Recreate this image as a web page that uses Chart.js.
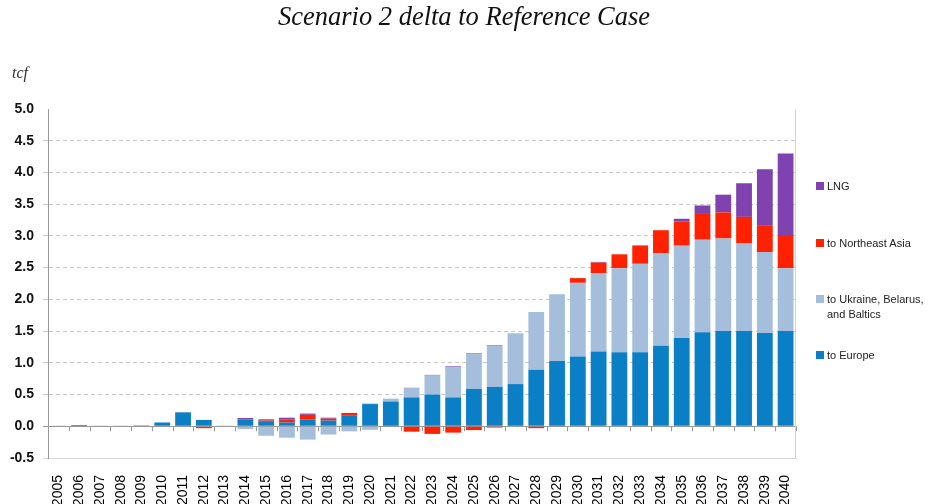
<!DOCTYPE html>
<html>
<head>
<meta charset="utf-8">
<script src="https://cdn.jsdelivr.net/npm/chart.js@4.4.1/dist/chart.umd.min.js"></script>
<style>
  body { margin: 0; background: #fff; }
  #wrap { position: relative; width: 928px; height: 504px; }
  #title { position: absolute; left: 0; top: 1px; width: 928px; text-align: center;
           font: italic 26.5px "Liberation Serif", serif; color: #111; line-height: 30px; }
  #unit { position: absolute; left: 12px; top: 64px; font: italic 16px "Liberation Serif", serif; color: #333; }
  .leg { position: absolute; left: 816px; font: 11px "Liberation Sans", sans-serif; color: #222; line-height: 15px; }
  .leg i { position: absolute; left: 0; top: 3px; width: 8px; height: 8px; }
  .leg span { display: block; padding-left: 11px; }
  canvas { position: absolute; left: 0; top: 0; }
</style>
</head>
<body>
<div id="wrap">
  <canvas id="myChart" width="928" height="504"></canvas>
  <div id="title">Scenario 2 delta to Reference Case</div>
  <div id="unit">tcf</div>
  <div class="leg" style="top:179px"><i style="background:#7f42ae"></i><span>LNG</span></div>
  <div class="leg" style="top:236px"><i style="background:#ff2200"></i><span>to Northeast Asia</span></div>
  <div class="leg" style="top:292px"><i style="background:#a4bedc"></i><span>to Ukraine, Belarus,<br>and Baltics</span></div>
  <div class="leg" style="top:348px"><i style="background:#0a7fc6"></i><span>to Europe</span></div>
</div>
<script>
var years = ["2005", "2006", "2007", "2008", "2009", "2010", "2011", "2012", "2013", "2014",
  "2015", "2016", "2017", "2018", "2019", "2020", "2021", "2022", "2023", "2024",
  "2025", "2026", "2027", "2028", "2029", "2030", "2031", "2032", "2033", "2034",
  "2035", "2036", "2037", "2038", "2039", "2040"];

var toEurope = [0.01, 0.02, 0.01, 0.01, 0.01, 0.06, 0.22, 0.10, 0.01, 0.10,
  0.07, 0.06, 0.11, 0.09, 0.165, 0.35, 0.39, 0.455, 0.50, 0.455,
  0.59, 0.62, 0.665, 0.89, 1.03, 1.10, 1.18, 1.165, 1.165, 1.27,
  1.39, 1.48, 1.50, 1.50, 1.47, 1.50];

var toUkraine = [0, 0, 0, 0, 0, 0, 0, -0.01, 0, -0.045,
  -0.15, -0.18, -0.21, -0.13, -0.08, -0.055, 0.045, 0.155, 0.30, 0.48,
  0.555, 0.65, 0.80, 0.91, 1.05, 1.16, 1.235, 1.325, 1.395, 1.455,
  1.455, 1.46, 1.46, 1.38, 1.275, 0.99];

var toNEAsia = [0, 0, 0, 0, 0.005, 0, 0, -0.02, 0, 0.01,
  0.02, 0.05, 0.07, 0.03, 0.045, 0, 0, -0.085, -0.12, -0.10,
  -0.06, -0.02, 0, -0.03, 0, 0.075, 0.165, 0.22, 0.29, 0.365,
  0.385, 0.42, 0.41, 0.42, 0.425, 0.51];

var lng = [0, 0, 0, 0, 0, 0, 0, 0, 0, 0.02,
  0.02, 0.025, 0.02, 0.015, 0, 0.005, -0.01, 0, 0.01, 0.01,
  0.01, 0.01, 0, 0, -0.01, 0, 0.01, 0, 0, 0,
  0.04, 0.12, 0.28, 0.53, 0.88, 1.30];

var yTicks = [-0.5, 0, 0.5, 1, 1.5, 2, 2.5, 3, 3.5, 4, 4.5, 5];

// small tick marks under the zero line plus the right frame line
var frame = {
  id: "frame",
  afterDatasetsDraw: function (chart) {
    var c = chart.ctx, x = chart.scales.x, y = chart.scales.y, a = chart.chartArea;
    var y0 = y.getPixelForValue(0);
    c.save();
    c.strokeStyle = "#999";
    c.lineWidth = 1;
    c.beginPath();
    for (var i = 0; i <= years.length; i++) {
      var px = x.getPixelForValue(i - 0.5);
      c.moveTo(Math.round(px) + 0.5, y0);
      c.lineTo(Math.round(px) + 0.5, y0 + 5);
    }
    c.stroke();
    c.strokeStyle = "#d4d4d4";
    c.beginPath();
    c.moveTo(Math.round(a.right) - 0.5, a.top);
    c.lineTo(Math.round(a.right) - 0.5, a.bottom);
    c.stroke();
    c.restore();
  }
};

function ds(label, data, color) {
  return {
    label: label,
    data: data,
    backgroundColor: color,
    borderWidth: 0,
    barPercentage: 0.76,
    categoryPercentage: 1.0
  };
}

var ctx = document.getElementById("myChart").getContext("2d");
var myChart = new Chart(ctx, {
  type: "bar",
  data: {
    labels: years,
    datasets: [
      ds("to Europe", toEurope, "#0a7fc6"),
      ds("to Ukraine, Belarus, and Baltics", toUkraine, "#a4bedc"),
      ds("to Northeast Asia", toNEAsia, "#ff2200"),
      ds("LNG", lng, "#7f42ae")
    ]
  },
  options: {
    responsive: false,
    animation: false,
    layout: { padding: { top: 109, right: 132, left: 0, bottom: 0 } },
    plugins: { legend: { display: false }, tooltip: { enabled: false } },
    scales: {
      x: {
        stacked: true,
        grid: { display: false },
        border: { display: true, color: "#d4d4d4" },
        ticks: {
          minRotation: 90, maxRotation: 90, padding: 9,
          color: "#000",
          font: { family: "Liberation Sans", size: 14 }
        },
        afterFit: function (s) { s.height = 46; }
      },
      y: {
        stacked: true,
        min: -0.5, max: 5,
        afterBuildTicks: function (s) { s.ticks = yTicks.map(function (v) { return { value: v }; }); },
        grid: {
          tickLength: 5,
          color: function (c) {
            if (c.tick && c.tick.value === 5) return "rgba(0,0,0,0)";
            if (c.tick && c.tick.value === 0) return "#999";
            if (c.tick && c.tick.value === -0.5) return "#d4d4d4";
            return "#c8c8c8";
          }
        },
        border: {
          display: true, color: "#999",
          dash: function (c) {
            if (c.type !== "tick") return [];
            return (c.tick.value === 0 || c.tick.value === -0.5) ? [] : [4, 3];
          }
        },
        ticks: {
          padding: 9,
          color: "#111",
          font: { family: "Liberation Sans", size: 14, weight: "bold" },
          callback: function (v) { return Number(v).toFixed(1); }
        },
        afterFit: function (s) { s.width = 48; }
      }
    }
  },
  plugins: [frame]
});
</script>
</body>
</html>
